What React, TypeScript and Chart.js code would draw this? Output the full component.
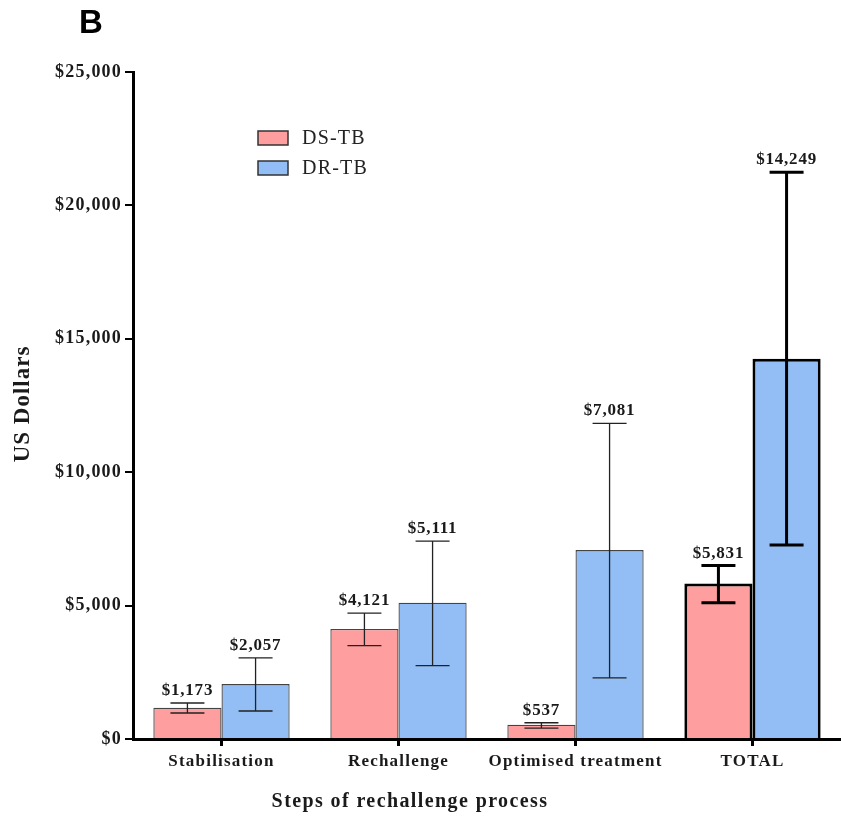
import React, { useEffect, useRef } from "react";
import { Chart, registerables } from "chart.js";

Chart.register(...registerables);

// Cost of each step of the rechallenge process, in US dollars
const categories = ["Stabilisation", "Rechallenge", "Optimised treatment", "TOTAL"];
const seriesNames = ["DS-TB", "DR-TB"];

const dsMean = [1173, 4121, 537, 5831];
const dsLow = [975, 3500, 410, 5110];
const dsHigh = [1350, 4720, 610, 6500];

const drMean = [2057, 5111, 7081, 14249];
const drLow = [1050, 2750, 2290, 7270];
const drHigh = [3040, 7420, 11830, 21240];

const yTicks = [0, 5000, 10000, 15000, 20000, 25000];

const SERIF = "'Liberation Serif', 'Times New Roman', serif";
const PINK = "#FF9E9E";
const BLUE = "#92BEF5";

const money = (v: number) => "$" + Math.round(v).toLocaleString("en-US");

const errorBars = [
  { low: dsLow, high: dsHigh, mean: dsMean },
  { low: drLow, high: drHigh, mean: drMean },
];

const overlayPlugin = {
  id: "overlay",
  beforeDraw(chart: any) {
    // slightly wider tracking for the axis tick labels
    (chart.ctx as any).letterSpacing = "1.2px";
  },
  afterDatasetsDraw(chart: any) {
    const ctx = chart.ctx as CanvasRenderingContext2D;
    const y = chart.scales.y;
    chart.data.datasets.forEach((_: any, di: number) => {
      const meta = chart.getDatasetMeta(di);
      const eb = errorBars[di];
      meta.data.forEach((bar: any, i: number) => {
        const total = i === categories.length - 1;
        const x = bar.x;
        const yl = y.getPixelForValue(eb.low[i]);
        const yh = y.getPixelForValue(eb.high[i]);
        const cap = 17;
        ctx.save();
        ctx.strokeStyle = total ? "#000" : "#222";
        ctx.lineWidth = total ? 3 : 1.3;
        ctx.beginPath();
        ctx.moveTo(x, yl);
        ctx.lineTo(x, yh);
        ctx.moveTo(x - cap, yh);
        ctx.lineTo(x + cap, yh);
        ctx.moveTo(x - cap, yl);
        ctx.lineTo(x + cap, yl);
        ctx.stroke();
        (ctx as any).letterSpacing = "0.8px";
        ctx.fillStyle = "#1a1a1a";
        ctx.font = `bold 17px ${SERIF}`;
        ctx.textAlign = "center";
        ctx.textBaseline = "alphabetic";
        ctx.fillText(money(eb.mean[i]), x, yh - 8);
        ctx.restore();
      });
    });
  },
  afterDraw(chart: any) {
    const ctx = chart.ctx as CanvasRenderingContext2D;
    ctx.save();
    // panel letter
    (ctx as any).letterSpacing = "0px";
    ctx.fillStyle = "#000";
    ctx.font = `bold 33px 'Liberation Sans', Arial, sans-serif`;
    ctx.textAlign = "left";
    ctx.textBaseline = "alphabetic";
    ctx.fillText("B", 79, 33);

    // axis titles
    ctx.fillStyle = "#1a1a1a";
    (ctx as any).letterSpacing = "1.4px";
    ctx.font = `bold 20px ${SERIF}`;
    ctx.textAlign = "center";
    ctx.textBaseline = "middle";
    ctx.fillText("Steps of rechallenge process", 410, 802);
    ctx.save();
    ctx.translate(23, 404);
    ctx.rotate(-Math.PI / 2);
    (ctx as any).letterSpacing = "1px";
    ctx.font = `bold 23px ${SERIF}`;
    ctx.fillText("US Dollars", 0, 0);
    ctx.restore();

    // legend
    const colors = [PINK, BLUE];
    seriesNames.forEach((name, i) => {
      const ly = 138 + i * 30;
      ctx.fillStyle = colors[i];
      ctx.fillRect(258, ly - 7, 30, 14);
      ctx.strokeStyle = "#333";
      ctx.lineWidth = 1.5;
      ctx.strokeRect(258, ly - 7, 30, 14);
      ctx.fillStyle = "#222";
      (ctx as any).letterSpacing = "1.2px";
      ctx.font = `20px ${SERIF}`;
      ctx.textAlign = "left";
      ctx.textBaseline = "middle";
      ctx.fillText(name, 302, ly + 1);
    });
    ctx.restore();
  },
};

export default function App() {
  const ref = useRef<HTMLCanvasElement | null>(null);

  useEffect(() => {
    if (!ref.current) return;
    const last = categories.length - 1;
    const borderColors = categories.map((_, i) => (i === last ? "#000" : "#444"));
    const borderWidths = categories.map((_, i) => (i === last ? 3 : 1.3));
    const chart = new Chart(ref.current, {
      type: "bar",
      data: {
        labels: categories,
        datasets: [
          {
            label: seriesNames[0],
            data: dsMean,
            backgroundColor: PINK,
            borderColor: borderColors,
            borderWidth: borderWidths,
            barPercentage: 1,
            categoryPercentage: 0.77,
          },
          {
            label: seriesNames[1],
            data: drMean,
            backgroundColor: BLUE,
            borderColor: borderColors,
            borderWidth: borderWidths,
            barPercentage: 1,
            categoryPercentage: 0.77,
          },
        ],
      },
      options: {
        responsive: false,
        animation: false,
        devicePixelRatio: 1,
        layout: { padding: { top: 72, left: 0, right: -4, bottom: 0 } },
        plugins: {
          legend: { display: false },
          tooltip: { enabled: false },
        },
        scales: {
          x: {
            grid: {
              offset: false,
              drawOnChartArea: false,
              drawTicks: true,
              tickLength: 7,
              lineWidth: 3,
              color: "#000",
            },
            border: { display: true, color: "#000", width: 3 },
            ticks: {
              color: "#1a1a1a",
              padding: 5,
              maxRotation: 0,
              font: { family: SERIF, size: 17, weight: "bold" },
            },
            afterFit: (s: any) => {
              s.height = 85;
            },
          },
          y: {
            min: 0,
            max: 25000,
            afterBuildTicks: (s: any) => {
              s.ticks = yTicks.map((v) => ({ value: v }));
            },
            grid: {
              drawOnChartArea: false,
              drawTicks: true,
              tickLength: 8,
              lineWidth: 2,
              color: "#000",
            },
            border: { display: true, color: "#000", width: 3 },
            ticks: {
              color: "#1a1a1a",
              padding: 3,
              font: { family: SERIF, size: 18, weight: "bold" },
              callback: (v: any) => money(Number(v)),
            },
            afterFit: (s: any) => {
              s.width = 133;
            },
          },
        },
      },
      plugins: [overlayPlugin],
    });
    return () => chart.destroy();
  }, []);

  return (
    <div style={{ position: "fixed", left: 0, top: 0, width: 841, height: 824, background: "#fff" }}>
      <canvas ref={ref} width={841} height={824} style={{ display: "block" }} />
    </div>
  );
}
